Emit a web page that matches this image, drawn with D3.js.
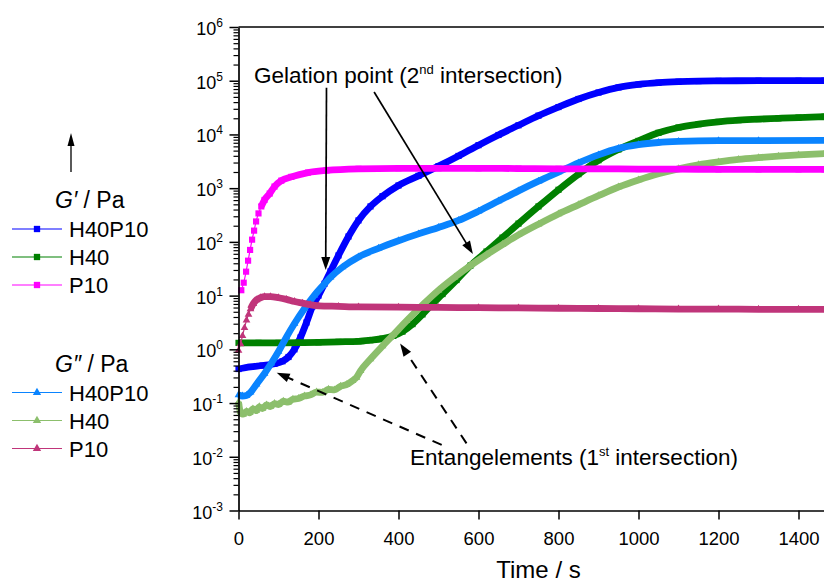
<!DOCTYPE html>
<html>
<head>
<meta charset="utf-8">
<script src="https://cdn.jsdelivr.net/npm/d3@7/dist/d3.min.js"></script>
<style>
  body { margin: 0; background: #fff; }
  svg { display: block; }
  text { font-family: "Liberation Sans", Arial, Helvetica, sans-serif; fill: #000; }
</style>
</head>
<body>
<svg id="chart" width="824" height="584"></svg>
<script>
// ---- Measured rheology data: time (s) and moduli (Pa) ----
// Storage modulus G'
const h40p10GpTime = [0, 30, 60, 90, 110, 125, 140, 155, 170, 185, 200, 215, 230, 250, 275, 300, 330, 360, 400, 450, 500, 550, 600, 650, 700, 750, 800, 850, 900, 950, 1000, 1050, 1100, 1150, 1200, 1300, 1400, 1465];
const h40p10Gp = [0.43, 0.47, 0.50, 0.54, 0.60, 0.72, 1.0, 1.66, 3.16, 6.3, 10.0, 16.6, 28.2, 56, 126, 251, 457, 708, 1122, 1698, 2570, 3981, 6310, 9772, 14790, 22390, 32360, 45710, 60260, 74990, 85110, 91840, 95940, 98400, 99540, 100000, 100000, 100500];

const h40GpTime = [0, 50, 100, 150, 200, 250, 300, 330, 360, 387, 410, 435, 460, 480, 510, 545, 580, 620, 660, 700, 750, 800, 850, 900, 950, 1000, 1050, 1100, 1150, 1200, 1250, 1300, 1350, 1400, 1465];
const h40Gp = [1.32, 1.32, 1.32, 1.33, 1.35, 1.38, 1.41, 1.48, 1.58, 1.78, 2.14, 2.95, 4.47, 6.46, 10.7, 19.5, 36.3, 66.1, 120, 219, 457, 933, 1820, 3311, 5248, 7586, 10720, 13490, 15490, 17180, 18410, 19280, 19950, 20650, 21380];

const p10GpTime = [7, 13, 19, 24, 29, 34, 39, 44, 50, 57, 65, 78, 90, 107, 132, 174, 220, 300, 400, 500, 600, 700, 800, 900, 1000, 1100, 1200, 1300, 1400, 1465];
const p10Gp = [12.6, 17.4, 27.9, 44.7, 70.8, 110, 162, 240, 339, 457, 603, 794, 1072, 1380, 1622, 1950, 2138, 2291, 2344, 2344, 2344, 2317, 2291, 2291, 2265, 2265, 2239, 2239, 2239, 2239];

// Loss modulus G''
const h40p10GppTime = [0, 10, 20, 30, 45, 65, 82, 100, 120, 140, 165, 190, 210, 230, 260, 300, 350, 400, 450, 500, 550, 600, 650, 700, 750, 800, 850, 900, 950, 1000, 1050, 1100, 1200, 1300, 1465];
const h40p10Gpp = [0.141, 0.135, 0.138, 0.158, 0.224, 0.355, 0.55, 0.91, 1.70, 3.02, 5.75, 10.2, 15.1, 21.9, 33.9, 52.5, 75.9, 105, 141, 186, 251, 372, 575, 891, 1349, 1995, 2951, 4169, 5495, 6457, 7079, 7413, 7674, 7674, 7762];

const h40GppTime = [0, 5, 12, 20, 28, 36, 44, 52, 60, 70, 80, 90, 100, 112, 124, 136, 150, 165, 180, 195, 210, 225, 240, 255, 270, 285, 295, 305, 330, 360, 387, 420, 462, 500, 540, 580, 620, 660, 700, 750, 800, 850, 900, 950, 1000, 1050, 1100, 1150, 1200, 1250, 1300, 1350, 1400, 1465];
const h40Gpp = [0.105, 0.068, 0.062, 0.070, 0.066, 0.078, 0.072, 0.085, 0.079, 0.092, 0.086, 0.098, 0.094, 0.108, 0.104, 0.118, 0.122, 0.135, 0.142, 0.160, 0.158, 0.180, 0.176, 0.205, 0.220, 0.26, 0.30, 0.398, 0.661, 1.15, 1.86, 3.39, 6.92, 12.6, 21.9, 36.3, 57.5, 89.1, 135, 214, 331, 490, 724, 1050, 1420, 1850, 2290, 2720, 3080, 3420, 3690, 3940, 4150, 4400];

const p10GppTime = [0, 5, 10, 15, 20, 25, 30, 37, 45, 55, 65, 80, 100, 120, 140, 160, 180, 200, 250, 300, 400, 500, 600, 700, 800, 900, 1000, 1100, 1200, 1300, 1400, 1465];
const p10Gpp = [0.955, 1.26, 1.78, 2.51, 3.47, 4.47, 5.62, 7.08, 8.32, 9.12, 9.55, 9.55, 9.12, 8.51, 7.76, 7.24, 6.76, 6.46, 6.31, 6.17, 6.10, 6.03, 5.96, 5.89, 5.82, 5.75, 5.69, 5.62, 5.62, 5.56, 5.56, 5.56];

// Axis ticks
const xTicks = [0, 200, 400, 600, 800, 1000, 1200, 1400];
const yDecades = [-3, -2, -1, 0, 1, 2, 3, 4, 5, 6];

// Legend entries
const sampleNames = ["H40P10", "H40", "P10"];

// ---- Scales ----
const svg = d3.select("#chart");
const x = d3.scaleLinear().domain([0, 1500]).range([238.5, 838.5]);
const y = d3.scaleLog().domain([1e-3, 1e6]).range([510.5, 27]);

const sq = d3.symbol().type(d3.symbolSquare).size(38)();
const tri = d3.symbol().type(d3.symbolTriangle).size(26)();
const sqLegend = d3.symbol().type(d3.symbolSquare).size(40)();
const triLegend = d3.symbol().type(d3.symbolTriangle).size(30)();

// Draw order: later series sit on top
const series = [
  { time: h40p10GpTime, values: h40p10Gp, color: "#0000ff", shape: sq, bandFrom: 0 },
  { time: h40GpTime, values: h40Gp, color: "#008000", shape: sq, bandFrom: 0 },
  { time: h40p10GppTime, values: h40p10Gpp, color: "#0a84ff", shape: tri, bandFrom: 0 },
  { time: h40GppTime, values: h40Gpp, color: "#8cbf6c", shape: tri, bandFrom: 0 },
  { time: p10GpTime, values: p10Gp, color: "#ff00ff", shape: sq, bandFrom: 57 },
  { time: p10GppTime, values: p10Gpp, color: "#c0357a", shape: tri, bandFrom: 30 }
];

const line = d3.line().x(d => x(d[0])).y(d => y(d[1])).curve(d3.curveMonotoneX);
const plot = svg.append("g");

series.forEach(s => {
  const pts = s.time.map((t, i) => [t, s.values[i]]);
  const band = pts.filter(p => p[0] >= s.bandFrom);
  plot.append("path").attr("d", line(pts))
    .attr("fill", "none").attr("stroke", s.color).attr("stroke-width", 1.2);
  plot.append("path").attr("d", line(band))
    .attr("fill", "none").attr("stroke", s.color).attr("stroke-width", 6.8)
    .attr("stroke-linejoin", "round");
  plot.append("g").selectAll("path").data(pts).join("path")
    .attr("transform", d => `translate(${x(d[0])},${y(d[1])})`)
    .attr("d", s.shape).attr("fill", s.color);
});

// ---- Axes ----
const xAxis = svg.append("g").attr("transform", `translate(0,${y(1e-3)})`)
  .call(d3.axisBottom(x).tickValues(xTicks).tickSize(9).tickSizeOuter(0).tickPadding(12).tickFormat(d3.format("d")));
xAxis.select(".domain").attr("stroke-width", 1.7);
xAxis.selectAll(".tick line").attr("stroke-width", 1.5);
xAxis.selectAll(".tick text").attr("font-size", 18.5).attr("font-family", "Liberation Sans, Arial, sans-serif");

const minorVals = [];
yDecades.slice(0, -1).forEach(e => { for (let k = 2; k <= 9; k++) minorVals.push(k * Math.pow(10, e)); });

const yMinor = svg.append("g").attr("transform", `translate(${x(0)},0)`)
  .call(d3.axisLeft(y).tickValues(minorVals).tickSize(5).tickSizeOuter(0).tickFormat(""));
yMinor.select(".domain").remove();
yMinor.selectAll(".tick line").attr("stroke-width", 1.2);

const yAxis = svg.append("g").attr("transform", `translate(${x(0)},0)`)
  .call(d3.axisLeft(y).tickValues(yDecades.map(e => Math.pow(10, e))).tickSize(9).tickSizeOuter(0).tickFormat(""));
yAxis.select(".domain").attr("stroke-width", 1.7);
yAxis.selectAll(".tick line").attr("stroke-width", 1.5);

// Decade labels 10^n
yDecades.forEach(e => {
  const t = svg.append("text").attr("x", 223).attr("y", y(Math.pow(10, e)) + 8)
    .attr("text-anchor", "end").attr("font-size", 18);
  t.append("tspan").text("10");
  t.append("tspan").attr("font-size", 12).attr("dy", -8).text(String(e));
});

// Top frame line
svg.append("line").attr("x1", x(0)).attr("x2", x(1500)).attr("y1", y(1e6)).attr("y2", y(1e6))
  .attr("stroke", "#000").attr("stroke-width", 1.7);

// Axis title
svg.append("text").attr("x", x(750)).attr("y", 578).attr("text-anchor", "middle")
  .attr("font-size", 24).text("Time / s");

// ---- Annotations ----
function arrow(x1, y1, x2, y2, dashed) {
  const ang = Math.atan2(y2 - y1, x2 - x1);
  const L = 13, W = 4.5;
  const bx = x2 - L * Math.cos(ang), by = y2 - L * Math.sin(ang);
  svg.append("line").attr("x1", x1).attr("y1", y1).attr("x2", bx + 2 * Math.cos(ang)).attr("y2", by + 2 * Math.sin(ang))
    .attr("stroke", "#000").attr("stroke-width", dashed ? 2 : 1.7)
    .attr("stroke-dasharray", dashed ? "10,8" : null);
  svg.append("path")
    .attr("d", `M${x2},${y2}L${bx + W * Math.sin(ang)},${by - W * Math.cos(ang)}L${bx - W * Math.sin(ang)},${by + W * Math.cos(ang)}Z`)
    .attr("fill", "#000");
}

// Gelation point arrows (data coordinates: time, modulus)
arrow(x(220), y(74000), x(218), y(30), false);
arrow(x(339), y(61700), x(586), y(59.6), false);
// Entanglement arrows
arrow(x(508), y(0.0166), x(95.5), y(0.366), true);
arrow(x(570), y(0.0178), x(404), y(1.29), true);

function supLabel(tx, ty, pre, sup, post) {
  const t = svg.append("text").attr("x", x(tx)).attr("y", y(ty)).attr("font-size", 22.5);
  t.append("tspan").text(pre);
  t.append("tspan").attr("font-size", 13).attr("dy", -9).text(sup);
  t.append("tspan").attr("dy", 9).text(post);
}
supLabel(39, 91000, "Gelation point (2", "nd", " intersection)");
supLabel(429, 0.00716, "Entangelements (1", "st", " intersection)");

// ---- Legend ----
const legend = svg.append("g");
legend.append("line").attr("x1", 71).attr("x2", 71).attr("y1", 172).attr("y2", 142)
  .attr("stroke", "#000").attr("stroke-width", 1.3);
legend.append("path").attr("d", "M71,133L67.5,146L74.5,146Z").attr("fill", "#000");

function header(yb, prime) {
  const t = legend.append("text").attr("x", 55).attr("y", yb).attr("font-size", 23);
  t.append("tspan").attr("font-style", "italic").text("G" + prime);
  t.append("tspan").text(" / Pa");
}
header(208, "\u2032");
header(371.5, "\u2033");

const gpColors = [series[0].color, series[1].color, series[4].color];
const gppColors = [series[2].color, series[3].color, series[5].color];
const legendRows = [
  { y0: 229, colors: gpColors, shape: sqLegend },
  { y0: 392.5, colors: gppColors, shape: triLegend }
];
legendRows.forEach(r => {
  sampleNames.forEach((name, i) => {
    const yy = r.y0 + i * 28;
    legend.append("line").attr("x1", 12).attr("x2", 62).attr("y1", yy).attr("y2", yy)
      .attr("stroke", r.colors[i]).attr("stroke-width", 1.2);
    legend.append("path").attr("transform", `translate(37,${yy})`).attr("d", r.shape).attr("fill", r.colors[i]);
    legend.append("text").attr("x", 69).attr("y", yy + 8).attr("font-size", 22).text(name);
  });
});
</script>
</body>
</html>
